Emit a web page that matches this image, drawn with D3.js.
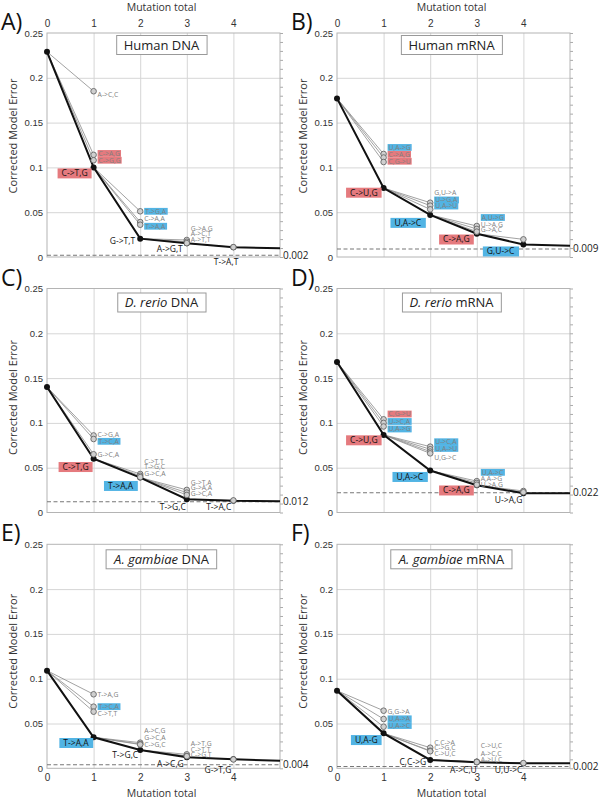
<!DOCTYPE html>
<html>
<head>
<meta charset="utf-8">
<script src="https://cdn.jsdelivr.net/npm/d3@7"></script>
<style>
  body { margin: 0; background: #fff; }
  svg { font-family: "Open Sans", "DejaVu Sans", sans-serif; }
</style>
</head>
<body>
<svg id="chart"></svg>
<script>
const steps = [0, 1, 2, 3, 4, 5]
const xTickValues = [0, 1, 2, 3, 4]
const yTickValues = [0, 0.05, 0.1, 0.15, 0.2, 0.25]

// A) Human DNA
const humanDnaBest = [0.229, 0.1, 0.0205, 0.0153, 0.011, 0.0097]
const humanDnaLimit = 0.002
const humanDnaBestLabels = ["", "C->T,G", "G->T,T", "A->G,T", "T->A,T"]
const humanDnaBestKinds = ["", "red", "", "", ""]
const humanDnaAltSteps = [1, 1, 1, 2, 2, 2, 3, 3, 3, 4]
const humanDnaAltValues = [0.185, 0.114, 0.108, 0.051, 0.039, 0.036, 0.019, 0.017, 0.0155, 0.011]
const humanDnaAltLabels = ["A->C,C", "C->A,G", "C->G,G", "T->G,A", "C->A,A", "T->A,A", "G->A,G", "A->C,T", "A->T,T", ""]
const humanDnaAltKinds = ["", "red", "red", "blue", "", "blue", "", "", "", ""]

// B) Human mRNA
const humanRnaBest = [0.177, 0.077, 0.047, 0.026, 0.014, 0.0125]
const humanRnaLimit = 0.009
const humanRnaBestLabels = ["", "C->U,G", "U,A->C", "C->A,G", "G,U->C"]
const humanRnaBestKinds = ["", "red", "blue", "red", "blue"]
const humanRnaAltSteps = [1, 1, 1, 2, 2, 2, 3, 3, 3, 4]
const humanRnaAltValues = [0.115, 0.111, 0.106, 0.0606, 0.0573, 0.0532, 0.0346, 0.0313, 0.0283, 0.0197]
const humanRnaAltLabels = ["U,A->G", "C->A,G", "C,G->U", "G,U->A", "U->G,A", "U,A->U", "A,U->G", "U->A,G", "G->A,C", ""]
const humanRnaAltKinds = ["blue", "red", "red", "", "blue", "blue", "blue", "", "", ""]

// C) D. rerio DNA
const rerioDnaBest = [0.14, 0.06, 0.039, 0.0148, 0.013, 0.0125]
const rerioDnaLimit = 0.012
const rerioDnaBestLabels = ["", "C->T,G", "T->A,A", "T->G,C", "T->A,C"]
const rerioDnaBestKinds = ["", "red", "blue", "", ""]
const rerioDnaAltSteps = [1, 1, 1, 2, 2, 2, 3, 3, 3, 4]
const rerioDnaAltValues = [0.086, 0.082, 0.065, 0.043, 0.041, 0.0395, 0.0252, 0.0222, 0.0196, 0.0135]
const rerioDnaAltLabels = ["C->G,A", "T->C,A", "G->C,A", "C->T,T", "T->G,C", "G->C,A", "G->T,A", "G->A,A", "G->C,A", ""]
const rerioDnaAltKinds = ["", "blue", "", "", "", "", "", "", "", ""]

// D) D. rerio mRNA
const rerioRnaBest = [0.168, 0.0866, 0.0468, 0.0305, 0.0215, 0.0215]
const rerioRnaLimit = 0.022
const rerioRnaBestLabels = ["", "C->U,G", "U,A->C", "C->A,G", "U->A,G"]
const rerioRnaBestKinds = ["", "red", "blue", "red", ""]
const rerioRnaAltSteps = [1, 1, 1, 2, 2, 2, 2, 3, 3, 3, 4, 4]
const rerioRnaAltValues = [0.104, 0.1, 0.096, 0.0735, 0.0706, 0.068, 0.066, 0.035, 0.033, 0.031, 0.024, 0.0226]
const rerioRnaAltLabels = ["C,G->U", "U->C,A", "U,A->G", "U->C,A", "U,A->U", "U,G->C", "", "U,A->C", "A,A->G", "U->A,G", "", ""]
const rerioRnaAltKinds = ["red", "blue", "blue", "blue", "blue", "", "", "blue", "", "", "", ""]

// E) A. gambiae DNA
const gambiaeDnaBest = [0.109, 0.0346, 0.0204, 0.0123, 0.01, 0.0085]
const gambiaeDnaLimit = 0.004
const gambiaeDnaBestLabels = ["", "T->A,A", "T->G,C", "A->C,G", "G->T,G"]
const gambiaeDnaBestKinds = ["", "blue", "", "", ""]
const gambiaeDnaAltSteps = [1, 1, 1, 2, 2, 2, 3, 3, 3, 4]
const gambiaeDnaAltValues = [0.0826, 0.0688, 0.0632, 0.0286, 0.027, 0.0265, 0.0156, 0.0137, 0.0135, 0.0099]
const gambiaeDnaAltLabels = ["T->A,G", "T->C,A", "C->T,T", "A->C,G", "G->C,A", "C->G,C", "A->T,G", "C->T,T", "C->G,T", ""]
const gambiaeDnaAltKinds = ["", "blue", "", "", "", "", "", "", "", ""]

// F) A. gambiae mRNA
const gambiaeRnaBest = [0.0866, 0.039, 0.0093, 0.0067, 0.0056, 0.0055]
const gambiaeRnaLimit = 0.002
const gambiaeRnaBestLabels = ["", "U,A-G", "C,C->G", "A->C,U", "U,U->C"]
const gambiaeRnaBestKinds = ["", "blue", "", "", ""]
const gambiaeRnaAltSteps = [1, 1, 1, 2, 2, 2, 3, 3, 3, 4]
const gambiaeRnaAltValues = [0.0643, 0.055, 0.0464, 0.023, 0.0196, 0.019, 0.0074, 0.0072, 0.007, 0.0058]
const gambiaeRnaAltLabels = ["G,G->A", "U,A->A", "U,A->C", "C,C->A", "C->G,C", "C->U,C", "C->U,C", "A->C,C", "A->U,C", ""]
const gambiaeRnaAltKinds = ["", "blue", "blue", "", "", "", "", "", "", ""]

// label nudges (pixels) - layout only
const humanDnaBestShift = [[0, 0], [-2, 6], [-5, 2.3], [-4, 5.4], [5, 15]]
const humanDnaAltDy = [3.8, -1.4, 0, 0, -3, 1.5, -11.7, -7.8, -3.8, 0]
const humanRnaBestShift = [[0, 0], [-2, 4.7], [-5, 8], [-3, 5.8], [-5, 7]]
const humanRnaAltDy = [-6.5, -3.2, -0.8, -9.7, -5.7, -3.3, -8.5, -4, -1.7, 0]
const rerioDnaBestShift = [[0, 0], [-1, 8.3], [-3, 8.4], [-1, 7.6], [-2, 5.8]]
const rerioDnaAltDy = [-0.4, 2.3, 0, -12.3, -8.7, -3, -7.8, -5.1, -1.2, 0]
const rerioRnaBestShift = [[0, 0], [-2, 5.4], [-3, 6.4], [-3, 5.3], [-1, 6.3]]
const rerioRnaAltDy = [-5.3, -1.4, 2.5, -4.9, -0.8, 6.1, 0, -8.8, -4.6, -0.4, 0, 0]
const gambiaeDnaBestShift = [[0, 0], [-1, 5.7], [-2, 5], [-3, 6.7], [-2, 10.7]]
const gambiaeDnaAltDy = [0.7, 0, 2.3, -11.7, -6.4, 0.4, -11, -6.7, -1.2, 0]
const gambiaeRnaBestShift = [[0, 0], [-2, 6.7], [-4, 1.7], [0, 7.7], [-1, 7]]
const gambiaeRnaAltDy = [1, -0.2, -1.2, -5, -2.7, 2.4, -15.7, -8.6, -2, 0]

const w = 600
const h = 800
const plotW = 233
const plotH = 224
const colLefts = [47, 337]
const rowTops = [33, 288.5, 544.3]
const titleDy = [12, 14, 15]
const yLabelShift = [-9, -3, -5]

const colors = { red: "#e57a7e", blue: "#52b4e4" }

const panels = [
    { letter: "A)", title: [["Human", false], [" DNA", false]], col: 0, row: 0,
      best: humanDnaBest, limit: humanDnaLimit, bestLabels: humanDnaBestLabels, bestKinds: humanDnaBestKinds,
      altSteps: humanDnaAltSteps, altValues: humanDnaAltValues, altLabels: humanDnaAltLabels, altKinds: humanDnaAltKinds,
      bestShift: humanDnaBestShift, altDy: humanDnaAltDy },
    { letter: "B)", title: [["Human", false], [" mRNA", false]], col: 1, row: 0,
      best: humanRnaBest, limit: humanRnaLimit, bestLabels: humanRnaBestLabels, bestKinds: humanRnaBestKinds,
      altSteps: humanRnaAltSteps, altValues: humanRnaAltValues, altLabels: humanRnaAltLabels, altKinds: humanRnaAltKinds,
      bestShift: humanRnaBestShift, altDy: humanRnaAltDy },
    { letter: "C)", title: [["D. rerio", true], [" DNA", false]], col: 0, row: 1,
      best: rerioDnaBest, limit: rerioDnaLimit, bestLabels: rerioDnaBestLabels, bestKinds: rerioDnaBestKinds,
      altSteps: rerioDnaAltSteps, altValues: rerioDnaAltValues, altLabels: rerioDnaAltLabels, altKinds: rerioDnaAltKinds,
      bestShift: rerioDnaBestShift, altDy: rerioDnaAltDy },
    { letter: "D)", title: [["D. rerio", true], [" mRNA", false]], col: 1, row: 1,
      best: rerioRnaBest, limit: rerioRnaLimit, bestLabels: rerioRnaBestLabels, bestKinds: rerioRnaBestKinds,
      altSteps: rerioRnaAltSteps, altValues: rerioRnaAltValues, altLabels: rerioRnaAltLabels, altKinds: rerioRnaAltKinds,
      bestShift: rerioRnaBestShift, altDy: rerioRnaAltDy },
    { letter: "E)", title: [["A. gambiae", true], [" DNA", false]], col: 0, row: 2,
      best: gambiaeDnaBest, limit: gambiaeDnaLimit, bestLabels: gambiaeDnaBestLabels, bestKinds: gambiaeDnaBestKinds,
      altSteps: gambiaeDnaAltSteps, altValues: gambiaeDnaAltValues, altLabels: gambiaeDnaAltLabels, altKinds: gambiaeDnaAltKinds,
      bestShift: gambiaeDnaBestShift, altDy: gambiaeDnaAltDy },
    { letter: "F)", title: [["A. gambiae", true], [" mRNA", false]], col: 1, row: 2,
      best: gambiaeRnaBest, limit: gambiaeRnaLimit, bestLabels: gambiaeRnaBestLabels, bestKinds: gambiaeRnaBestKinds,
      altSteps: gambiaeRnaAltSteps, altValues: gambiaeRnaAltValues, altLabels: gambiaeRnaAltLabels, altKinds: gambiaeRnaAltKinds,
      bestShift: gambiaeRnaBestShift, altDy: gambiaeRnaAltDy }
]

const svg = d3.select("#chart")
    .attr("width", w)
    .attr("height", h)

svg.append("rect").attr("width", w).attr("height", h).attr("fill", "#fff")

panels.forEach(p => drawPanel(p))

function drawPanel(p){

    const left = colLefts[p.col]
    const top = rowTops[p.row]
    const bottom = top + plotH

    const xScale = d3.scaleLinear().domain([0, 5]).range([left, left + plotW])
    const yScale = d3.scaleLinear().domain([0, 0.25]).range([bottom, top])

    const g = svg.append("g")

    //Grid
    g.append("g")
        .attr("transform", `translate(0, ${bottom})`)
        .call(d3.axisBottom(xScale).tickValues(xTickValues.slice(1)).tickSize(-plotH).tickFormat(""))
        .call(a => a.select(".domain").remove())
        .call(a => a.selectAll("line").attr("stroke", "#d6d6d6"))

    g.append("g")
        .attr("transform", `translate(${left}, 0)`)
        .call(d3.axisLeft(yScale).tickValues(yTickValues.slice(1, 5)).tickSize(-plotW).tickFormat(""))
        .call(a => a.select(".domain").remove())
        .call(a => a.selectAll("line").attr("stroke", "#d6d6d6"))

    //Minor ticks on right edge
    g.append("g")
        .attr("transform", `translate(${left + plotW}, 0)`)
        .call(d3.axisRight(yScale).tickValues(d3.range(0, 0.2501, 0.01)).tickSize(3).tickFormat(""))
        .call(a => a.select(".domain").remove())
        .call(a => a.selectAll("line").attr("stroke", "#aaa"))

    //Border
    g.append("rect")
        .attr("x", left)
        .attr("y", top)
        .attr("width", plotW)
        .attr("height", plotH)
        .attr("fill", "none")
        .attr("stroke", "#b4b4b4")

    //Y axis labels
    g.append("g")
        .attr("transform", `translate(${left}, 0)`)
        .call(d3.axisLeft(yScale).tickValues(yTickValues).tickSize(0).tickPadding(4).tickFormat(d => String(d)))
        .call(a => a.select(".domain").remove())
        .call(a => a.selectAll("text").attr("font-size", 9.5).attr("fill", "#333").attr("font-family", null))

    g.append("text")
        .attr("transform", `translate(${left - 30}, ${(top + bottom) / 2 + yLabelShift[p.row]}) rotate(-90)`)
        .attr("text-anchor", "middle")
        .attr("font-size", 11)
        .attr("fill", "#333")
        .text("Corrected Model Error")

    //X axis labels, top row on top, bottom row below
    if (p.row === 0){
        g.append("g")
            .attr("transform", `translate(0, ${top})`)
            .call(d3.axisTop(xScale).tickValues(xTickValues).tickSize(0).tickPadding(6).tickFormat(d3.format("d")))
            .call(a => a.select(".domain").remove())
            .call(a => a.selectAll("text").attr("font-size", 10).attr("fill", "#333").attr("font-family", null))
        g.append("text")
            .attr("x", left + plotW / 2 - 2)
            .attr("y", 11)
            .attr("text-anchor", "middle")
            .attr("font-size", 10.5)
            .attr("fill", "#333")
            .text("Mutation total")
    }
    if (p.row === 2){
        g.append("g")
            .attr("transform", `translate(0, ${bottom})`)
            .call(d3.axisBottom(xScale).tickValues(xTickValues).tickSize(0).tickPadding(6).tickFormat(d3.format("d")))
            .call(a => a.select(".domain").remove())
            .call(a => a.selectAll("text").attr("font-size", 10).attr("fill", "#333").attr("font-family", null))
        g.append("text")
            .attr("x", left + plotW / 2 - 2)
            .attr("y", 797)
            .attr("text-anchor", "middle")
            .attr("font-size", 10.5)
            .attr("fill", "#333")
            .text("Mutation total")
    }

    //Panel letter
    g.append("text")
        .attr("x", left - 46)
        .attr("y", top - 3)
        .attr("font-size", 23)
        .attr("fill", "#111")
        .text(p.letter)

    //Title box
    const titleText = g.append("text")
        .attr("x", left + plotW / 2 - 2)
        .attr("y", top + titleDy[p.row] + 4.5)
        .attr("text-anchor", "middle")
        .attr("font-size", 13)
        .attr("fill", "#222")
    p.title.forEach(part => {
        titleText.append("tspan")
            .attr("font-style", part[1] ? "italic" : "normal")
            .text(part[0])
    })
    const tb = titleText.node().getBBox()
    g.insert("rect", () => titleText.node())
        .attr("x", tb.x - 7)
        .attr("y", top + titleDy[p.row] - 9.5)
        .attr("width", tb.width + 14)
        .attr("height", 19)
        .attr("fill", "#fff")
        .attr("stroke", "#999")

    //Asymptote
    g.append("line")
        .attr("x1", xScale(0))
        .attr("x2", xScale(5))
        .attr("y1", yScale(p.limit))
        .attr("y2", yScale(p.limit))
        .attr("stroke", "#777")
        .attr("stroke-width", 1.1)
        .attr("stroke-dasharray", "4,2.5")

    g.append("text")
        .attr("x", xScale(5) + 3)
        .attr("y", yScale(p.limit) + 3.5)
        .attr("font-size", 10)
        .attr("fill", "#222")
        .text(d3.format(".3f")(p.limit))

    //Alternative branches
    const alts = p.altSteps.map((s, i) => ({ step: s, value: p.altValues[i], label: p.altLabels[i], kind: p.altKinds[i], dy: p.altDy[i] }))

    g.selectAll(".altLine")
        .data(alts)
        .enter()
        .append("line")
        .attr("x1", d => xScale(d.step - 1))
        .attr("y1", d => yScale(p.best[d.step - 1]))
        .attr("x2", d => xScale(d.step))
        .attr("y2", d => yScale(d.value))
        .attr("stroke", "#8a8a8a")
        .attr("stroke-width", 0.8)

    //Best path
    const line = d3.line()
        .x((d, i) => xScale(steps[i]))
        .y(d => yScale(d))

    g.append("path")
        .datum(p.best)
        .attr("d", line)
        .attr("fill", "none")
        .attr("stroke", "#111")
        .attr("stroke-width", 2)

    g.selectAll(".bestDot")
        .data(p.best.slice(0, 5))
        .enter()
        .append("circle")
        .attr("cx", (d, i) => xScale(steps[i]))
        .attr("cy", d => yScale(d))
        .attr("r", 3)
        .attr("fill", "#111")

    g.selectAll(".altDot")
        .data(alts)
        .enter()
        .append("circle")
        .attr("cx", d => xScale(d.step))
        .attr("cy", d => yScale(d.value))
        .attr("r", 2.8)
        .attr("fill", "#cfcfcf")
        .attr("stroke", "#666")
        .attr("stroke-width", 0.9)

    //Alt labels
    alts.filter(d => d.label !== "").forEach(d => {
        addLabel(g, d.label, xScale(d.step) + 4, yScale(d.value) + d.dy, "start", d.kind, 6.8, "#808080", 1, 6.8)
    })

    //Best labels
    p.bestLabels.forEach((lab, i) => {
        if (lab === "") return
        const s = p.bestShift[i]
        addLabel(g, lab, xScale(steps[i]) + s[0], yScale(p.best[i]) + s[1], "end", p.bestKinds[i], 8.5, "#111", 4, 10)
    })
}

function addLabel(g, text, x, yCenter, anchor, kind, size, color, padX, boxH){

    const t = g.append("text")
        .attr("x", kind ? (anchor === "end" ? x - padX : x + padX) : x)
        .attr("y", yCenter + size * 0.35)
        .attr("text-anchor", anchor)
        .attr("font-size", size)
        .attr("fill", color)
        .text(text)

    if (kind){
        const b = t.node().getBBox()
        g.insert("rect", () => t.node())
            .attr("x", b.x - padX)
            .attr("y", yCenter - boxH / 2)
            .attr("width", b.width + padX * 2)
            .attr("height", boxH)
            .attr("fill", colors[kind])
    }
}
</script>
</body>
</html>
